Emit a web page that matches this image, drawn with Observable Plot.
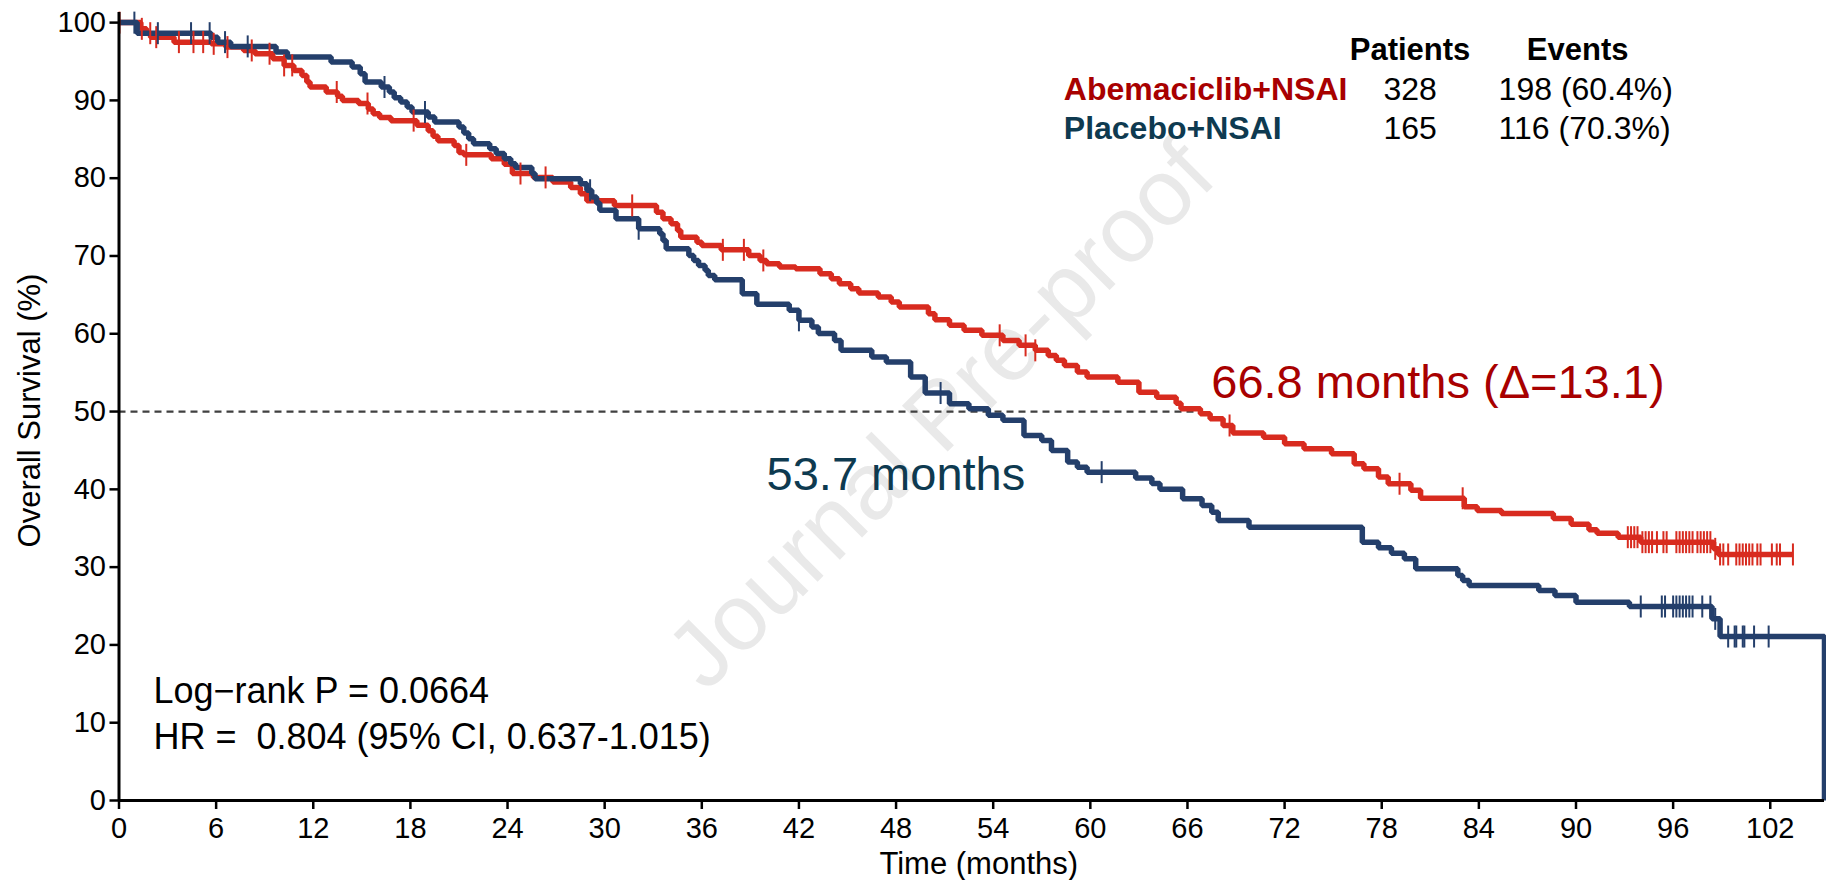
<!DOCTYPE html>
<html>
<head>
<meta charset="utf-8">
<script src="https://cdn.jsdelivr.net/npm/d3@7"></script>
<script src="https://cdn.jsdelivr.net/npm/@observablehq/plot@0.6"></script>
<style>
  html, body { margin: 0; padding: 0; background: #ffffff; }
  svg text { white-space: pre; }
</style>
</head>
<body>
<script>
// ---------- DATA ----------
const xTicks = [0, 6, 12, 18, 24, 30, 36, 42, 48, 54, 60, 66, 72, 78, 84, 90, 96, 102];
const yTicks = [0, 10, 20, 30, 40, 50, 60, 70, 80, 90, 100];

// Abemaciclib+NSAI Kaplan-Meier steps (time in months, survival %)
const abemaTime = [0, 1.35, 1.7, 1.95, 3.4, 5.7, 6.6, 7.7, 8.4, 9.5,
  10.2, 10.8, 11.3, 11.6, 11.8, 12.8, 13.5, 13.8, 14.8, 15.4,
  15.7, 16.1, 16.8, 18.4, 19.1, 19.4, 19.7, 20.7, 21.0, 21.3,
  23.0, 23.8, 24.3, 25.6, 26.8, 27.9, 28.5, 28.9, 30.6, 33.2,
  33.6, 34.1, 34.5, 34.7, 35.7, 36.0, 37.2, 38.9, 39.6, 40.0,
  40.8, 41.8, 43.3, 44.0, 44.5, 45.2, 45.7, 46.9, 47.7, 48.2,
  50.0, 50.4, 51.3, 52.2, 53.3, 54.6, 55.6, 56.6, 57.4, 57.9,
  58.4, 59.2, 59.8, 61.7, 63.0, 64.1, 65.3, 65.6, 66.8, 67.4,
  68.2, 68.8, 70.7, 72.0, 73.2, 74.9, 76.3, 76.9, 77.8, 78.4,
  79.8, 80.4, 83.1, 83.9, 85.4, 88.6, 89.7, 90.8, 91.3, 92.6,
  94.0, 98.5, 98.8, 103.4];
const abemaSurv = [100, 99.2, 98.64, 98.13, 97.49, 97.27, 96.85, 96.42, 96.0, 95.35,
  94.5, 93.85, 93.21, 92.36, 91.72, 91.08, 90.52, 90.0, 89.6, 88.9,
  88.3, 87.8, 87.4, 86.8, 86.1, 85.4, 84.8, 84.2, 83.3, 83.0,
  82.5, 81.8, 80.6, 80.1, 79.5, 78.8, 78.0, 77.1, 76.5, 75.63,
  74.78, 74.13, 73.28, 72.42, 71.78, 71.35, 70.79, 70.07, 69.43, 69.0,
  68.57, 68.36, 67.72, 67.07, 66.43, 65.79, 65.23, 64.72, 64.08, 63.43,
  62.58, 61.81, 61.08, 60.44, 59.8, 59.15, 58.51, 57.87, 57.22, 56.58,
  55.93, 55.08, 54.43, 53.77, 52.49, 51.85, 51.08, 50.35, 49.71, 49.07,
  48.21, 47.23, 46.71, 45.86, 45.22, 44.58, 43.29, 42.65, 41.58, 40.72,
  39.87, 38.85, 37.75, 37.28, 36.9, 36.25, 35.5, 34.8, 34.37, 33.85,
  33.21, 32.35, 31.63, 31.63];
const abemaCensor = [0.03, 1.41, 1.93, 2.3, 3.7, 4.6, 5.2, 5.85, 6.7, 8.2, 9.3, 10.2, 10.7,
  13.45, 15.35, 18.2, 21.45, 24.8, 26.35, 31.7, 37.3, 38.6, 39.8, 54.4, 56.0, 56.6,
  68.6, 79.1, 83.0, 93.2, 93.4, 93.6, 93.8, 94.1, 94.3, 94.5, 94.7, 95.0, 95.4, 95.6,
  96.2, 96.4, 96.6, 96.8, 97.0, 97.2, 97.5, 97.7, 97.9, 98.1, 98.3, 98.6, 98.9, 99.1,
  99.4, 99.9, 100.1, 100.3, 100.5, 100.7, 100.9, 101.2, 101.4, 102.1, 102.4, 102.6, 103.4];

// Placebo+NSAI Kaplan-Meier steps
const placeboTime = [0, 1.12, 5.7, 6.1, 6.9, 9.7, 10.4, 13.1, 14.4, 14.9,
  15.2, 16.2, 16.7, 17.0, 17.4, 17.8, 18.1, 19.1, 19.5, 21.0,
  21.3, 21.6, 21.9, 22.9, 23.3, 23.8, 24.2, 24.5, 25.5, 25.7,
  28.5, 28.9, 29.2, 29.5, 29.7, 30.7, 32.1, 33.4, 33.6, 33.8,
  35.2, 35.5, 35.8, 36.2, 36.4, 36.8, 38.5, 39.4, 41.4, 42.0,
  42.8, 43.2, 44.2, 44.6, 46.5, 47.4, 48.9, 49.8, 51.3, 52.5,
  53.7, 54.6, 55.9, 57.0, 57.6, 58.6, 59.2, 59.8, 62.8, 63.8,
  64.3, 65.7, 66.9, 67.5, 67.9, 69.8, 76.8, 77.8, 78.6, 79.4,
  80.1, 82.7, 83.0, 83.4, 87.7, 88.7, 90.0, 93.3, 98.4, 98.9,
  105.35];
const placeboSurv = [100, 98.64, 98.13, 97.49, 96.94, 96.21, 95.57, 94.93, 94.29, 93.43,
  92.36, 91.72, 91.08, 90.35, 89.8, 89.15, 88.51, 87.87, 87.22, 86.58,
  85.81, 85.08, 84.44, 83.8, 83.16, 82.51, 81.87, 81.36, 80.59, 79.94,
  79.3, 78.45, 77.59, 76.82, 75.88, 74.78, 73.5, 72.85, 72.0, 70.93,
  70.07, 69.43, 68.79, 68.15, 67.5, 66.95, 65.15, 63.78, 63.01, 61.73,
  60.87, 60.02, 59.15, 57.87, 57.01, 56.37, 54.43, 52.38, 51.01, 50.37,
  49.51, 48.87, 46.92, 46.28, 45.0, 43.5, 42.85, 42.21, 41.45, 40.75,
  40.0, 38.8, 37.92, 37.06, 35.99, 35.13, 33.21, 32.48, 31.79, 31.07,
  29.78, 28.92, 28.28, 27.64, 26.99, 26.35, 25.49, 24.94, 23.35, 21.08,
  0];
const placeboCensor = [0.95, 2.4, 4.45, 5.6, 6.55, 7.95, 16.4, 18.9, 29.1, 32.1, 42.0, 50.75,
  60.7, 94.0, 95.3, 95.5, 96.0, 96.2, 96.4, 96.6, 96.8, 97.0, 97.2, 97.8, 98.3, 98.6,
  99.4, 99.8, 99.9, 100.3, 100.4, 101.0, 101.9];

const arms = ["Abemaciclib+NSAI", "Placebo+NSAI"];
const patients = [328, 165];
const events = ["198 (60.4%)", "116 (70.3%)"];
const legendHeaders = ["Patients", "Events"];
const medians = [66.8, 53.7];
const medianLabels = ["66.8 months (\u0394=13.1)", "53.7 months"];
const statsLines = ["Log\u2212rank P = 0.0664", "HR =  0.804 (95% CI, 0.637-1.015)"];
const watermark = "Journal Pre-proof";

// ---------- STYLE / LAYOUT ----------
const lineColors = ["#D82B1F", "#243F6B"];
const textColors = ["#A80000", "#0E3A50"];
const layout = {
  headerY: 95.13, rowY: [89.99, 85.1],
  armX: 58.36, patientsX: 79.75, eventsX: 85.22, eventsHeaderX: 90.1,
  medianTextX: [67.47, 40.0], medianTextY: [51.68, 39.98],
  statsX: 2.13, statsY: [12.47, 6.68],
  wmX: 50.8, wmY: 49.5
};

// ---------- BUILD ----------
const toSteps = (T, S, arm) => T.map((t, i) => ({t, s: S[i], arm}));
const survAt = (T, S, t) => { let s = S[0]; for (let i = 0; i < T.length; i++) { if (T[i] <= t) s = S[i]; else break; } return s; };
const abemaSteps = toSteps(abemaTime, abemaSurv, arms[0]);
const placeboSteps = toSteps(placeboTime, placeboSurv, arms[1]);
const abemaCens = abemaCensor.map(t => ({t, s: survAt(abemaTime, abemaSurv, t)}));
const placeboCens = placeboCensor.map(t => ({t, s: survAt(placeboTime, placeboSurv, t)}));

const vbar = { draw(ctx, size) { const h = Math.sqrt(size / Math.PI); ctx.moveTo(0, -h); ctx.lineTo(0, h); } };

const legendRows = arms.map((a, i) => ({arm: a, patients: String(patients[i]), events: events[i], y: layout.rowY[i], color: textColors[i]}));
const FONT = "'Liberation Sans', Arial, Helvetica, sans-serif";

const chart = Plot.plot({
  width: 1826, height: 880,
  marginLeft: 118.5, marginRight: 2, marginTop: 12, marginBottom: 80,
  style: {fontFamily: FONT, background: "#ffffff", color: "#000000", overflow: "visible"},
  x: {domain: [0, 105.35]},
  y: {domain: [0, 101.3]},
  marks: [
    Plot.text([watermark], {x: layout.wmX, y: layout.wmY, rotate: -45, fontSize: 94, fill: "#e9e9e9", textAnchor: "middle", lineAnchor: "middle"}),
    Plot.ruleY([50], {x1: 0, x2: medians[0], stroke: "#404040", strokeWidth: 2.2, strokeDasharray: "7,5"}),
    Plot.line(abemaSteps, {x: "t", y: "s", curve: "step-after", stroke: lineColors[0], strokeWidth: 5.5, strokeLinejoin: "miter", strokeLinecap: "butt"}),
    Plot.line(placeboSteps, {x: "t", y: "s", curve: "step-after", stroke: lineColors[1], strokeWidth: 5.5, strokeLinejoin: "miter", strokeLinecap: "butt"}),
    Plot.dot(abemaCens, {x: "t", y: "s", symbol: vbar, r: 11, fill: "none", stroke: lineColors[0], strokeWidth: 2}),
    Plot.dot(placeboCens, {x: "t", y: "s", symbol: vbar, r: 11, fill: "none", stroke: lineColors[1], strokeWidth: 2}),
    Plot.ruleX([0], {stroke: "#000", strokeWidth: 3}),
    Plot.ruleY([0], {stroke: "#000", strokeWidth: 3}),
    Plot.axisX({ticks: xTicks, tickSize: 9, tickPadding: 8, fontSize: 29, strokeWidth: 2.5, label: null, tickFormat: d => String(d)}),
    Plot.axisY({ticks: yTicks, tickSize: 9, tickPadding: 4, fontSize: 29, strokeWidth: 2.5, label: null, tickFormat: d => String(d)}),
    Plot.text(["Time (months)"], {frameAnchor: "bottom", dx: 7, dy: 73, fontSize: 31, textAnchor: "middle", lineAnchor: "bottom", fill: "#000"}),
    Plot.text(["Overall Survival (%)"], {frameAnchor: "left", dx: -88.5, dy: 4, rotate: -90, fontSize: 31, textAnchor: "middle", lineAnchor: "middle", fill: "#000"}),
    // legend table
    Plot.text([legendHeaders[0]], {x: layout.patientsX, y: layout.headerY, fontSize: 31, fontWeight: "bold", textAnchor: "middle", lineAnchor: "bottom", fill: "#000"}),
    Plot.text([legendHeaders[1]], {x: layout.eventsHeaderX, y: layout.headerY, fontSize: 31, fontWeight: "bold", textAnchor: "middle", lineAnchor: "bottom", fill: "#000"}),
    Plot.text(legendRows, {x: layout.armX, y: "y", text: "arm", fill: "color", fontSize: 32, fontWeight: "bold", textAnchor: "start", lineAnchor: "bottom"}),
    Plot.text(legendRows, {x: layout.patientsX, y: "y", text: "patients", fill: "#000", fontSize: 32, textAnchor: "middle", lineAnchor: "bottom"}),
    Plot.text(legendRows, {x: layout.eventsX, y: "y", text: "events", fill: "#000", fontSize: 32, textAnchor: "start", lineAnchor: "bottom"}),
    // median annotations
    Plot.text([medianLabels[0]], {x: layout.medianTextX[0], y: layout.medianTextY[0], fill: textColors[0], fontSize: 47, textAnchor: "start", lineAnchor: "bottom"}),
    Plot.text([medianLabels[1]], {x: layout.medianTextX[1], y: layout.medianTextY[1], fill: textColors[1], fontSize: 47, textAnchor: "start", lineAnchor: "bottom"}),
    // stats
    Plot.text([statsLines[0]], {x: layout.statsX, y: layout.statsY[0], fill: "#000", fontSize: 36, textAnchor: "start", lineAnchor: "bottom"}),
    Plot.text([statsLines[1]], {x: layout.statsX, y: layout.statsY[1], fill: "#000", fontSize: 36, textAnchor: "start", lineAnchor: "bottom"})
  ]
});
document.body.appendChild(chart);
</script>
</body>
</html>
